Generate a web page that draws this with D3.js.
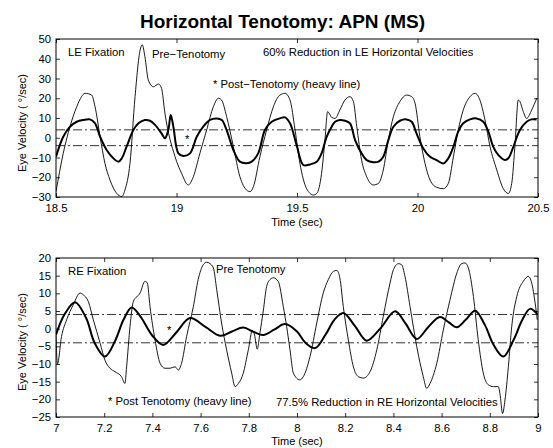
<!DOCTYPE html>
<html><head><meta charset="utf-8">
<script src="https://cdn.jsdelivr.net/npm/d3@7/dist/d3.min.js"></script>
<style>
body{margin:0;background:#fff;}
text{font-family:"Liberation Sans",Arial,Helvetica,sans-serif;fill:#000;}
</style></head>
<body><svg id="c" width="553" height="448"></svg>
<script>
// ---------- DATA ----------
const titleText = "Horizontal Tenotomy: APN (MS)";
const topXTicks = [18.5, 19, 19.5, 20, 20.5];
const topYTicks = [-30, -20, -10, 0, 10, 20, 30, 40, 50];
const botXTicks = [7, 7.2, 7.4, 7.6, 7.8, 8, 8.2, 8.4, 8.6, 8.8, 9];
const botYTicks = [-25, -20, -15, -10, -5, 0, 5, 10, 15, 20];
const thresholds = [4, -4];

// Top: pre-tenotomy (thin) [time, velocity]
const topPreT = [18.5,18.530,18.558,18.586,18.606,18.620,18.648,18.662,18.683,18.703,18.724,18.752,18.773,18.786,18.807,18.828,18.849,18.858,18.869,18.883,18.904,18.925,18.938,18.952,18.994,19.021,19.049,19.070,19.097,19.125,19.153,19.174,19.187,19.208,19.236,19.263,19.291,19.305,19.319,19.346,19.374,19.402,19.429,19.450,19.471,19.492,19.512,19.540,19.568,19.582,19.602,19.616,19.627,19.644,19.658,19.678,19.699,19.720,19.734,19.748,19.768,19.789,19.817,19.838,19.858,19.879,19.900,19.927,19.955,19.976,19.990,20.010,20.031,20.052,20.080,20.107,20.128,20.149,20.169,20.190,20.218,20.239,20.259,20.280,20.301,20.329,20.356,20.377,20.391,20.405,20.418,20.425,20.439,20.453,20.474,20.495];
const topPreV = [-27.3,-7.9,5.6,15.7,20.8,22.5,21.6,15.7,0.5,-12.9,-21.4,-28.2,-29.8,-26.5,-12.9,20.8,44.4,47.0,41.0,29.2,25.8,27.2,25.0,12.4,-9.6,-18.0,-23.9,-19.7,-7.9,3.9,15.7,20.0,19.1,10.7,-4.5,-19.7,-26.5,-27.3,-24.8,-9.6,3.9,15.7,21.6,22.5,19.1,3.9,-12.9,-25.8,-29.0,-28.2,-18.0,-1.1,13.2,10.3,9.8,14.1,19.1,20.8,18.3,5.6,-11.3,-19.7,-23.9,-23.1,-16.3,-1.1,10.7,18.3,21.6,20.8,17.4,0.5,-12.9,-21.4,-25.1,-25.8,-23.1,-9.6,3.9,14.1,20.8,22.5,19.1,9.0,-4.5,-16.3,-25.8,-28.2,-23.1,-2.8,19.1,18.3,13.2,9.8,14.1,20.0];

// Top: post-tenotomy (heavy)
const topPostT = [18.5,18.530,18.558,18.586,18.613,18.641,18.662,18.683,18.710,18.738,18.759,18.773,18.793,18.821,18.842,18.869,18.890,18.911,18.938,18.952,18.966,18.976,18.987,19.008,19.029,19.056,19.084,19.111,19.139,19.167,19.188,19.208,19.236,19.263,19.291,19.312,19.339,19.367,19.395,19.429,19.450,19.471,19.499,19.526,19.554,19.582,19.602,19.623,19.644,19.658,19.678,19.699,19.720,19.741,19.768,19.789,19.817,19.838,19.858,19.879,19.900,19.927,19.955,19.976,19.996,20.024,20.052,20.079,20.107,20.128,20.149,20.169,20.190,20.218,20.245,20.273,20.294,20.314,20.335,20.363,20.377,20.398,20.425,20.453,20.473,20.494];
const topPostV = [-9.6,0.5,5.6,8.1,9.0,9.3,7.3,0.5,-6.2,-10.4,-12.1,-10.4,-4.5,3.9,7.3,9.0,8.6,6.5,2.2,-0.3,3.9,11.5,5.6,-7.9,-9.2,-7.9,0.5,5.6,9.0,9.8,9.0,3.9,-6.2,-12.1,-12.9,-12.1,-7.9,3.9,8.1,9.8,10.3,7.3,-4.0,-13.8,-13.5,-12.1,-7.9,0.5,5.6,8.1,9.0,8.6,7.3,-1.2,-7.9,-11.3,-12.4,-12.1,-9.6,-1.2,5.6,8.6,9.3,8.1,2.2,-5.4,-9.6,-11.3,-13.0,-10.4,-4.5,3.1,7.3,9.3,9.8,8.1,3.1,-4.5,-8.7,-11.3,-10.4,-4.5,3.9,8.1,9.3,9.3];

// Bottom: pre-tenotomy (thin)
const botPreT = [7.0,7.006,7.023,7.044,7.072,7.100,7.113,7.134,7.155,7.183,7.203,7.224,7.245,7.272,7.286,7.293,7.307,7.321,7.349,7.369,7.379,7.390,7.411,7.432,7.452,7.473,7.494,7.508,7.521,7.542,7.570,7.590,7.611,7.625,7.639,7.653,7.667,7.687,7.708,7.729,7.743,7.757,7.777,7.798,7.815,7.824,7.835,7.846,7.860,7.874,7.888,7.902,7.922,7.943,7.957,7.971,7.985,8.012,8.026,8.054,8.082,8.109,8.130,8.151,8.165,8.178,8.192,8.213,8.234,8.255,8.275,8.303,8.331,8.358,8.386,8.400,8.421,8.434,8.448,8.469,8.497,8.524,8.538,8.552,8.580,8.607,8.635,8.663,8.683,8.697,8.711,8.732,8.752,8.773,8.794,8.815,8.835,8.842,8.853,8.863,8.877,8.891,8.912,8.939,8.960,8.974,8.988,8.997];
const botPreV = [-1.8,-10.0,-2.2,2.5,6.8,10.1,9.6,7.7,2.5,-4.1,-8.9,-11.2,-12.2,-13.6,-15.5,-10.8,0.6,7.7,10.1,13.4,12.9,6.3,-3.2,-9.8,-11.2,-11.2,-10.8,-11.7,-9.8,-2.2,6.3,13.9,18.1,18.8,18.4,17.2,11.0,1.6,-6.0,-12.6,-16.4,-15.5,-12.6,-6.0,-0.5,-1.8,-5.8,-1.3,5.0,11.9,13.9,14.4,13.4,6.3,0.6,-6.0,-12.6,-14.5,-13.6,-7.9,1.6,10.1,13.9,16.2,16.5,14.3,6.3,-3.2,-10.8,-13.6,-14.0,-12.2,-6.0,3.5,12.9,16.7,18.4,18.1,14.8,6.3,-5.1,-13.6,-16.9,-15.5,-9.8,-0.4,8.2,15.7,18.4,18.6,17.2,9.1,-3.2,-12.6,-15.9,-16.4,-16.4,-18.3,-24.0,-20.2,-10.8,0.6,9.1,13.4,14.8,12.9,7.3,2.5];

// Bottom: post-tenotomy (heavy)
const botPostT = [7.0,7.035,7.079,7.125,7.160,7.203,7.245,7.280,7.314,7.350,7.400,7.445,7.500,7.556,7.620,7.681,7.730,7.777,7.820,7.860,7.905,7.950,8.000,8.035,8.075,8.120,8.155,8.192,8.240,8.289,8.345,8.407,8.450,8.497,8.545,8.593,8.630,8.663,8.700,8.739,8.780,8.815,8.856,8.900,8.935,8.967,9.0];
const botPostV = [-1.7,4.0,7.5,3.0,-4.0,-7.9,-3.5,2.5,6.0,3.5,-2.0,-4.6,-1.0,3.0,0.5,-2.0,-0.8,0.3,-0.9,-1.8,-0.3,1.3,-0.8,-4.0,-5.5,-1.5,2.5,4.4,0.8,-3.4,0.0,4.9,1.5,-2.9,0.5,3.3,1.8,0.4,2.5,5.1,1.0,-4.5,-7.9,-3.0,2.5,5.6,3.9];

// ---------- DRAW ----------
const svg = d3.select("#c");
svg.append("rect").attr("width",553).attr("height",448).attr("fill","#fff");

svg.append("text").attr("x",282.5).attr("y",27.5).attr("text-anchor","middle")
  .style("font-size","19px").style("font-weight","bold").text(titleText);

function panel(cfg){
  const x = d3.scaleLinear().domain(cfg.xd).range([56,538]);
  const y = d3.scaleLinear().domain(cfg.yd).range([cfg.y1,cfg.y0]);
  const g = svg.append("g");
  const clipId = "clip"+cfg.id;
  svg.append("clipPath").attr("id",clipId).append("rect")
    .attr("x",56).attr("y",cfg.y0).attr("width",482).attr("height",cfg.y1-cfg.y0);

  const fmt = d3.format("~g");
  const axL = g.append("g").attr("transform","translate(56,0)")
    .call(d3.axisLeft(y).tickValues(cfg.yt).tickSize(-4).tickPadding(5).tickFormat(fmt));
  const axR = g.append("g").attr("transform","translate(538,0)")
    .call(d3.axisRight(y).tickValues(cfg.yt).tickSize(-4).tickFormat(""));
  const axB = g.append("g").attr("transform",`translate(0,${cfg.y1})`)
    .call(d3.axisBottom(x).tickValues(cfg.xt).tickSize(-4).tickPadding(7).tickFormat(fmt));
  const axT = g.append("g").attr("transform",`translate(0,${cfg.y0})`)
    .call(d3.axisTop(x).tickValues(cfg.xt).tickSize(-4).tickFormat(""));
  [axL,axR,axB,axT].forEach(a=>{
    a.select(".domain").remove();
    a.selectAll("line").attr("stroke","#000").attr("stroke-width",0.8);
    a.selectAll("text").style("font-size","11.3px").style("font-family","'Liberation Sans',Arial,sans-serif");
  });

  const pl = g.append("g").attr("clip-path",`url(#${clipId})`);
  thresholds.forEach(t=>{
    pl.append("line").attr("x1",56).attr("x2",538).attr("y1",y(t)).attr("y2",y(t))
      .attr("stroke","#000").attr("stroke-width",0.8).attr("stroke-dasharray","9,3,2,3");
  });
  const lineThin = d3.line().x(d=>x(d[0])).y(d=>y(d[1])).curve(d3.curveMonotoneX);
  const lineHeavy = d3.line().x(d=>x(d[0])).y(d=>y(d[1])).curve(d3.curveCatmullRom.alpha(0.5));
  const pre = cfg.preT.map((t,i)=>[t,cfg.preV[i]]);
  const post = cfg.postT.map((t,i)=>[t,cfg.postV[i]]);
  pl.append("path").datum(pre).attr("d",lineThin).attr("fill","none").attr("stroke","#000").attr("stroke-width",0.9);
  pl.append("path").datum(post).attr("d",lineHeavy).attr("fill","none").attr("stroke","#000").attr("stroke-width",2);

  g.append("rect").attr("x",56).attr("y",cfg.y0).attr("width",482).attr("height",cfg.y1-cfg.y0)
    .attr("fill","none").attr("stroke","#000").attr("stroke-width",1);

  svg.append("text").attr("x",297).attr("y",cfg.xlabY).attr("text-anchor","middle")
    .style("font-size","11px").text("Time (sec)");
  svg.append("text").attr("transform",`translate(26,${cfg.ylabC}) rotate(-90)`).attr("text-anchor","middle")
    .style("font-size","11px").text("Eye Velocity ( °/sec)");

  cfg.notes.forEach(n=>{
    svg.append("text").attr("x",n[0]).attr("y",n[1]).style("font-size","11.3px").text(n[2]);
  });
}

panel({id:1, xd:[18.5,20.5], yd:[-30,50], y0:39, y1:197, xt:topXTicks, yt:topYTicks,
  preT:topPreT, preV:topPreV, postT:topPostT, postV:topPostV, ylabC:123, xlabY:225.5,
  notes:[[68,56,"LE Fixation"],[152,58,"Pre\u2212Tenotomy"],[263,56,"60% Reduction in LE Horizontal Velocities"],
         [213,88,"* Post\u2212Tenotomy (heavy line)"],[185,143,"*"]]});

panel({id:2, xd:[7,9], yd:[-25,20], y0:258, y1:417, xt:botXTicks, yt:botYTicks,
  preT:botPreT, preV:botPreV, postT:botPostT, postV:botPostV, ylabC:342, xlabY:444.5,
  notes:[[68,275,"RE Fixation"],[216,273,"Pre Tenotomy"],[167,334,"*"],
         [108,405,"* Post Tenotomy (heavy line)"],[276,406,"77.5% Reduction in RE Horizontal Velocities"]]});
</script></body></html>
